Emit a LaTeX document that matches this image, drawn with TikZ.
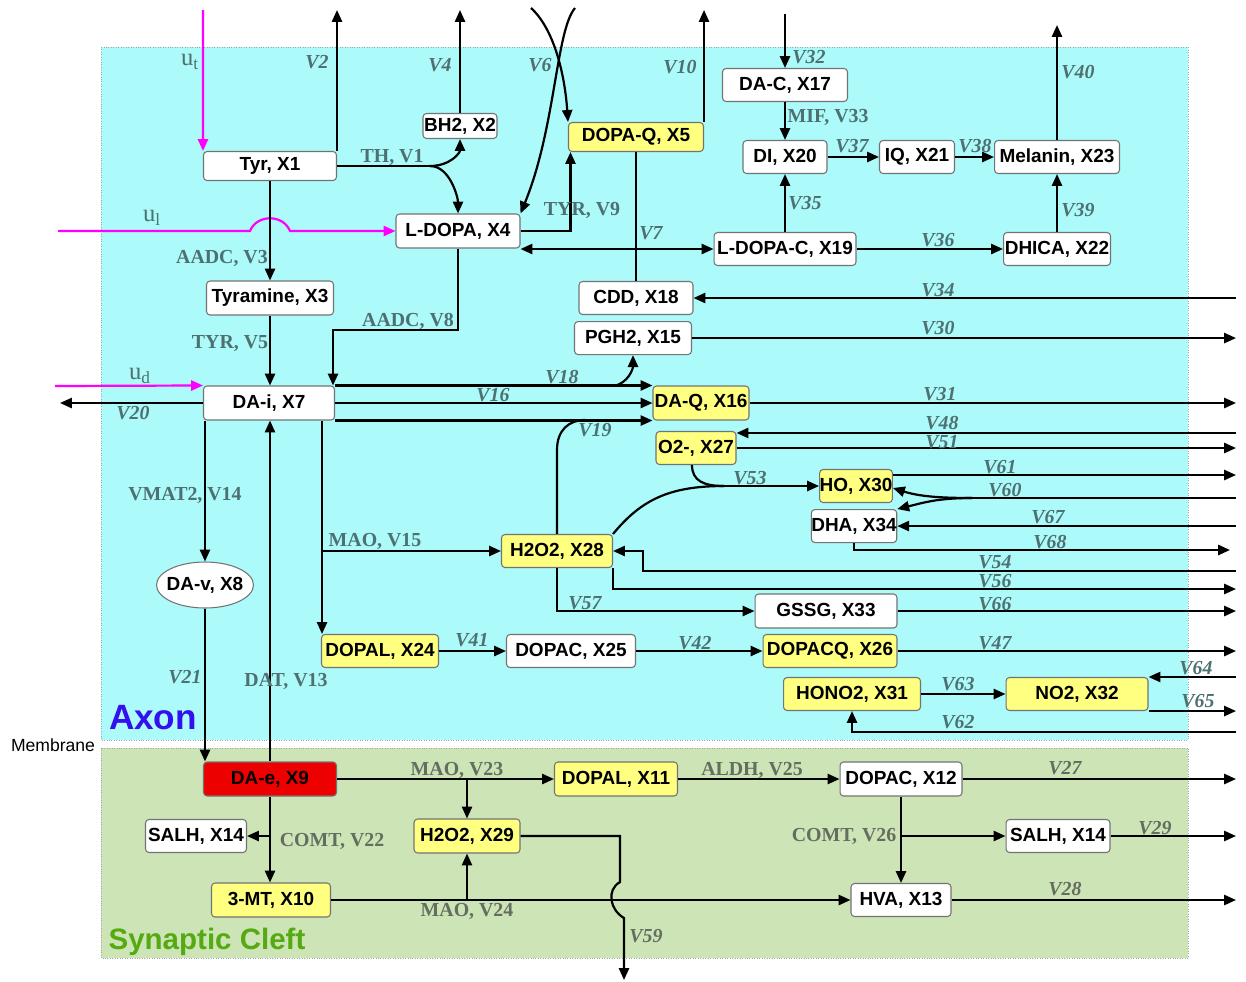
\documentclass[tikz,border=0pt]{standalone}
\usepackage{fontspec}
\setmainfont{Liberation Serif}
\setsansfont{Liberation Sans}
\usepackage{xcolor}
\usetikzlibrary{arrows.meta,shapes,positioning,calc}

\definecolor{axonbg}{RGB}{172,250,250}
\definecolor{cleftbg}{RGB}{205,228,182}
\definecolor{molyel}{RGB}{255,255,128}
\definecolor{molred}{RGB}{236,0,0}
\definecolor{ratecol}{RGB}{78,112,112}
\definecolor{cleftcol}{RGB}{100,110,96}
\definecolor{axonblue}{RGB}{51,17,238}
\definecolor{cleftgreen}{RGB}{85,170,17}
\definecolor{inpink}{RGB}{255,0,255}

\begin{document}
\begin{tikzpicture}[x=0.02cm,y=-0.02cm,
    box/.style={rectangle,draw=black!55,line width=0.6pt,fill=white,rounded corners=2pt,minimum height=0.66cm,inner sep=0pt,font=\fontsize{10.8}{12}\selectfont\sffamily\bfseries},
    ybox/.style={box,fill=molyel},
    rbox/.style={box,fill=molred},
    vesicle/.style={ellipse,draw=black!55,line width=0.6pt,fill=white,inner xsep=-0.09cm,inner ysep=0pt,minimum width=1.94cm,minimum height=0.92cm,font=\fontsize{10.8}{12}\selectfont\sffamily\bfseries},
    arrow/.style={-{Triangle[length=6.8pt,width=5.8pt]},line width=1.25pt},
    twoway/.style={{Triangle[length=6.8pt,width=5.8pt]}-{Triangle[length=6.8pt,width=5.8pt]},line width=1.25pt},
    flow/.style={line width=1.25pt},
    input/.style={arrow,inpink},
    enz/.style={font=\fontsize{11.3}{12}\selectfont\bfseries,text=ratecol,inner sep=0pt},
    rate/.style={font=\fontsize{11.3}{12}\selectfont\bfseries\itshape,text=ratecol,inner sep=0pt},
    enzc/.style={enz,text=cleftcol},
    ratec/.style={rate,text=cleftcol},
    inp/.style={font=\fontsize{14}{14}\selectfont,text=ratecol,inner sep=0pt},
]
\useasboundingbox (0,0) rectangle (1246,981);
\draw[gray!70,densely dotted,line width=0.4pt,fill=axonbg]  (101,47)  rectangle (1188,740);
\draw[gray!70,densely dotted,line width=0.4pt,fill=cleftbg] (101,748) rectangle (1188,958);
\node[font=\fontsize{20}{20}\selectfont\sffamily\bfseries,text=axonblue]     (axon)     at (153,718) {Axon};
\node[font=\fontsize{16.8}{17}\selectfont\sffamily\bfseries,text=cleftgreen] (cleft)    at (207,942) {Synaptic Cleft};
\node[font=\fontsize{10}{10}\selectfont\sffamily]                           (membrane) at (53,745)  {Membrane};

% axon
\node[box,minimum width=2.66cm,minimum height=0.58cm]  (x1)  at (270,166)  {Tyr, X1};
\node[box,minimum width=1.48cm,minimum height=0.50cm]  (x2)  at (460,126)  {BH2, X2};
\node[ybox,minimum width=2.70cm,minimum height=0.58cm] (x5)  at (636,137)  {DOPA-Q, X5};
\node[box,minimum width=2.50cm]                        (x17) at (785,85)   {DA-C, X17};
\node[box,minimum width=1.68cm]                        (x20) at (785,157)  {DI, X20};
\node[box,minimum width=1.50cm]                        (x21) at (917,157)  {IQ, X21};
\node[box,minimum width=2.50cm]                        (x23) at (1057,157) {Melanin, X23};
\node[box,minimum width=2.48cm,minimum height=0.68cm]  (x4)  at (458,231)  {L-DOPA, X4};
\node[box,minimum width=2.84cm]                        (x19) at (785,249)  {L-DOPA-C, X19};
\node[box,minimum width=2.14cm]                        (x22) at (1057,249) {DHICA, X22};
\node[box,minimum width=2.54cm,minimum height=0.68cm]  (x3)  at (270,298)  {Tyramine, X3};
\node[box,minimum width=2.28cm]                        (x18) at (636,298)  {CDD, X18};
\node[box,minimum width=2.34cm,below=0.12cm of x18,xshift=-0.06cm] (x15) {PGH2, X15};
\node[box,minimum width=2.62cm,minimum height=0.68cm]  (x7)  at (269,403)  {DA-i, X7};
\node[ybox,minimum width=1.92cm,minimum height=0.68cm] (x16) at (701,403)  {DA-Q, X16};
\node[ybox,minimum width=1.60cm]                       (x27) at (696,448)  {O2-, X27};
\node[ybox,minimum width=1.40cm]                       (x30) at (856,486)  {HO, X30};
\node[box,minimum width=1.62cm,below=0.12cm of x30,xshift=-0.04cm] (x34) {DHA, X34};
\node[ybox,minimum width=2.22cm]                       (x28) at (557,551)  {H2O2, X28};
\node[vesicle]                                         (x8)  at (205,585)  {DA-v, X8};
\node[box,minimum width=2.84cm,minimum height=0.68cm]  (x33) at (826,611)  {GSSG, X33};
\node[ybox,minimum width=2.34cm]                       (x24) at (380,651)  {DOPAL, X24};
\node[box,minimum width=2.58cm]                        (x25) at (571,651)  {DOPAC, X25};
\node[ybox,minimum width=2.68cm]                       (x26) at (830,651)  {DOPACQ, X26};
\node[ybox,minimum width=2.74cm]                       (x31) at (852,694)  {HONO2, X31};
\node[ybox,minimum width=2.84cm]                       (x32) at (1077,694) {NO2, X32};
% synaptic cleft
\node[rbox,minimum width=2.66cm,minimum height=0.68cm] (x9)   at (270,779)  {DA-e, X9};
\node[ybox,minimum width=2.46cm,minimum height=0.68cm] (x11)  at (616,779)  {DOPAL, X11};
\node[box,minimum width=2.44cm,minimum height=0.68cm]  (x12)  at (901,779)  {DOPAC, X12};
\node[box,minimum width=2.02cm]                        (x14a) at (196,836)  {SALH, X14};
\node[ybox,minimum width=2.12cm,minimum height=0.68cm] (x29)  at (467,836)  {H2O2, X29};
\node[box,minimum width=2.08cm]                        (x14b) at (1058,836) {SALH, X14};
\node[ybox,minimum width=2.38cm,minimum height=0.68cm] (x10)  at (271,900)  {3-MT, X10};
\node[box,minimum width=2.00cm]                        (x13)  at (901,900)  {HVA, X13};

\coordinate (rim)  at (1236,0);
\coordinate (lrim) at (60,0);
\coordinate (sky)  at (0,10);

% inputs
\coordinate (ut) at (203,10);
\coordinate (ul) at (58,231);
\coordinate (ud) at (55,386);
\draw[input] (ut) -- (x1.north west);
\draw[input] (ul) -- ($(x3.north |- x4.west)+(-20,0)$) .. controls +(7,-17) and +(-7,-17) .. ($(x3.north |- x4.west)+(20,0)$) -- (x4.west);
\draw[input] (ud) -- (x7.north west);

% top part
\draw[arrow] (x1.north east) -- (x1.north east |- sky);
\coordinate (th) at (430,166);
\draw[flow]  (x1.east) -- (th);
\draw[arrow] (th) .. controls +(20,0) and +(0,14) .. (x2.south);
\draw[arrow] (th) .. controls +(20,0) and +(0,-16) .. (x4.north);
\draw[arrow] (x2.north) -- (x2.north |- sky);
\coordinate (v6a) at (531,8);
\coordinate (v6b) at (575,8);
\draw[arrow] (v6a) .. controls +(24,22) and +(-3,-45) .. (x5.north west);
\draw[arrow] (v6b) .. controls +(-19,22) and +(35,-85) .. (x4.north east);
\path ([xshift=0.05cm]x5.south west) coordinate (v9);
\draw[arrow] (x4.east) -| (v9);
\draw[arrow] (x5.north east) -- (x5.north east |- sky);
\draw[flow]  (x5.south) -- (x18.north);
\draw[twoway] (x19.west -| x4.east) -- (x19.west);
\coordinate (in32) at (785,14);
\draw[arrow] (in32) -- (x17.north);
\draw[arrow] (x17.south) -- (x20.north);
\draw[arrow] (x20.east) -- (x21.west);
\draw[arrow] (x21.east) -- (x23.west);
\draw[arrow] (x19.north) -- (x20.south);
\draw[arrow] (x19.east) -- (x22.west);
\draw[arrow] (x22.north) -- (x23.south);
\coordinate (out40) at (1057,25);
\draw[arrow] (x23.north) -- (out40);
\draw[arrow] (x18.east -| rim) -- (x18.east);
\draw[arrow] (x15.east) -- (x15.east -| rim);

% dopamine
\draw[arrow] (x1.south) -- (x3.north);
\draw[arrow] (x3.south) -- (x3.south |- x7.north);
\coordinate (v8) at (0,330);
\path ([xshift=-0.04cm]x7.north east) coordinate (v8e);
\draw[arrow] (x4.south) -- (x4.south |- v8) -| (v8e);
\draw[arrow] (x7.west) -- (x7.west -| lrim);
\draw[arrow] (x7.north east) -- (x16.north west);
\coordinate (v18) at (614,386);
\draw[arrow] (v18) .. controls +(14,-3) and +(0,14) .. (x15.south);
\draw[arrow] (x7.east) -- (x16.west);
\draw[arrow] (x7.south east) -- (x16.south west);
\coordinate (v19) at (585,420);
\draw[flow]  (x28.north) -- ++(0,-84) .. controls +(0,-20) and +(-16,0) .. (v19);
\draw[arrow] (x16.east) -- (x16.east -| rim);

% oxidative species
\path ([yshift=-0.04cm]x27.north east) coordinate (v48);
\draw[arrow] (v48 -| rim) -- (v48);
\draw[arrow] (x27.east) -- (x27.east -| rim);
\coordinate (v53) at (724,486);
\draw[flow]  ([xshift=-0.08cm]x27.south) .. controls +(0,16) and +(-20,0) .. (v53);
\draw[flow]  (x28.north east) .. controls +(28,-34) and +(-55,0) .. (v53);
\draw[arrow] (v53) -- (x30.west);
\path ([yshift=0.22cm]x30.east) coordinate (v61);
\draw[arrow] (v61) -- (v61 -| rim);
\coordinate (v60) at (972,498);
\draw[flow]  (v60 -| rim) -- (v60);
\draw[arrow] (v60) .. controls +(-35,0) and +(25,8) .. ([yshift=-0.04cm]x30.east);
\draw[arrow] (v60) .. controls +(-35,0) and +(25,-6) .. (x34.north east);
\draw[arrow] (x34.east -| rim) -- (x34.east);
\coordinate (v68) at (1230,550);
\draw[arrow] (x34.south) |- (v68);
\coordinate (v54)  at (1236,571);
\coordinate (v54k) at (643,0);
\draw[arrow] (v54) -- (v54 -| v54k) |- (x28.east);
\coordinate (v56) at (1236,589);
\draw[arrow] (x28.south east) |- (v56);
\draw[arrow] (x28.south) |- (x33.west);
\draw[arrow] (x33.east) -- (x33.east -| rim);
\path ([xshift=-0.26cm]x7.south east) coordinate (v15);
\draw[arrow] (v15) -- (v15 |- x24.north);
\draw[arrow] (v15 |- x28.west) -- (x28.west);
\draw[arrow] (x24.east) -- (x25.west);
\draw[arrow] (x25.east) -- (x26.west);
\draw[arrow] (x26.east) -- (x26.east -| rim);
\draw[arrow] (x31.east) -- (x32.west);
\draw[arrow] (rim |- x32.north east) -- (x32.north east);
\draw[arrow] (x32.south east) -- (x32.south east -| rim);
\coordinate (v62) at (1236,732);
\draw[arrow] (v62) -| (x31.south);

% transport
\path ([xshift=0.04cm]x7.south west) coordinate (v14);
\draw[arrow] (v14) -- (v14 |- x8.north);
\draw[arrow] (x8.south) -- (x8.south |- x9.north);
\draw[arrow] (x9.north) -- (x9.north |- x7.south);

% cleft
\draw[arrow] (x9.east) -- (x11.west);
\draw[arrow] (x9.east -| x29.north) -- (x29.north);
\draw[arrow] (x11.east) -- (x12.west);
\draw[arrow] (x12.east) -- (x12.east -| rim);
\draw[arrow] (x12.south) -- (x13.north);
\draw[arrow] (x12.south |- x14b.west) -- (x14b.west);
\draw[arrow] (x14b.east) -- (x14b.east -| rim);
\draw[arrow] (x13.east) -- (x13.east -| rim);
\draw[arrow] (x9.south) -- (x9.south |- x10.north);
\draw[arrow] (x9.south |- x14a.east) -- (x14a.east);
\draw[arrow] (x10.east) -- (x13.west);
\draw[arrow] (x10.east -| x29.south) -- (x29.south);
\coordinate (v59k) at (620,0);
\coordinate (v59)  at (624,980);
\draw[arrow] (x29.east) -- (x29.east -| v59k) -- ++(0,46) .. controls +(-14,8) and +(-14,-8) .. ++(4,36) -- (v59);

% labels
\node[inp]  (lut)  at (190,62)   {u\textsubscript{t}};
\node[inp]  (lul)  at (152,218)  {u\textsubscript{l}};
\node[inp]  (lud)  at (140,376)  {u\textsubscript{d}};
\node[rate] (lv2)  at (317,62)   {V2};
\node[enz]  (lv1)  at (392,157)  {TH, V1};
\node[rate] (lv4)  at (440,65)   {V4};
\node[rate] (lv6)  at (540,65)   {V6};
\node[rate] (lv10) at (680,67)   {V10};
\node[rate] (lv32) at (809,57)   {V32};
\node[enz]  (lv33) at (828,117)  {MIF, V33};
\node[rate] (lv37) at (852,146)  {V37};
\node[rate] (lv38) at (975,146)  {V38};
\node[rate] (lv40) at (1078,72)  {V40};
\node[rate] (lv35) at (805,203)  {V35};
\node[rate] (lv39) at (1078,210) {V39};
\node[rate] (lv36) at (938,240)  {V36};
\node[enz]  (lv9)  at (582,210)  {TYR, V9};
\node[rate] (lv7)  at (651,233)  {V7};
\node[rate] (lv34) at (938,290)  {V34};
\node[rate] (lv30) at (938,328)  {V30};
\node[enz]  (lv3)  at (222,258)  {AADC, V3};
\node[enz]  (lv5)  at (230,344)  {TYR, V5};
\node[enz]  (lv8)  at (408,321)  {AADC, V8};
\node[rate] (lv20) at (133,413)  {V20};
\node[rate] (lv18) at (562,377)  {V18};
\node[rate] (lv16) at (493,395)  {V16};
\node[rate] (lv19) at (595,430)  {V19};
\node[rate] (lv31) at (940,394)  {V31};
\node[rate] (lv48) at (942,423)  {V48};
\node[rate] (lv51) at (942,442)  {V51};
\node[rate] (lv53) at (750,478)  {V53};
\node[rate] (lv61) at (1000,467) {V61};
\node[rate] (lv60) at (1005,490) {V60};
\node[rate] (lv67) at (1048,517) {V67};
\node[rate] (lv68) at (1050,542) {V68};
\node[rate] (lv54) at (995,562)  {V54};
\node[rate] (lv56) at (995,581)  {V56};
\node[rate] (lv57) at (585,603)  {V57};
\node[rate] (lv66) at (995,604)  {V66};
\node[enz]  (lv15) at (375,541)  {MAO, V15};
\node[rate] (lv41) at (472,640)  {V41};
\node[rate] (lv42) at (695,643)  {V42};
\node[rate] (lv47) at (995,643)  {V47};
\node[rate] (lv64) at (1196,668) {V64};
\node[rate] (lv63) at (958,684)  {V63};
\node[rate] (lv65) at (1198,701) {V65};
\node[rate] (lv62) at (958,722)  {V62};
\node[enz]  (lv14) at (185,495)  {VMAT2, V14};
\node[rate] (lv21) at (185,677)  {V21};
\node[enz]  (lv13) at (286,681)  {DAT, V13};
\node[enzc]  (lv23) at (457,770)  {MAO, V23};
\node[enzc]  (lv25) at (752,770)  {ALDH, V25};
\node[ratec] (lv27) at (1065,768) {V27};
\node[enzc]  (lv26) at (844,836)  {COMT, V26};
\node[ratec] (lv29) at (1155,828) {V29};
\node[ratec] (lv28) at (1065,889) {V28};
\node[enzc]  (lv22) at (332,841)  {COMT, V22};
\node[enzc]  (lv24) at (467,911)  {MAO, V24};
\node[ratec] (lv59) at (646,936)  {V59};
\end{tikzpicture}
\end{document}
